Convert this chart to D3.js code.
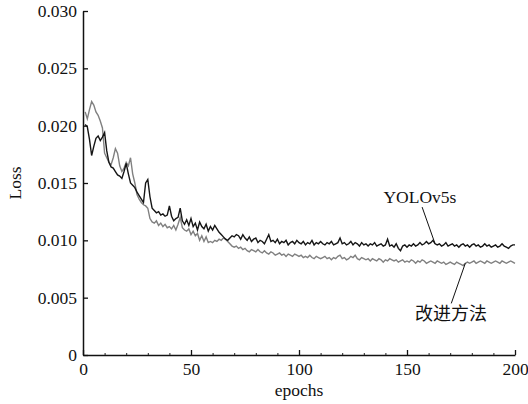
<!DOCTYPE html>
<html><head><meta charset="utf-8">
<script src="https://cdn.jsdelivr.net/npm/d3@7/dist/d3.min.js"></script>
<style>body{margin:0;background:#fff}svg{display:block}</style>
</head><body>
<svg id="c" width="528" height="404"></svg>
<script>
const epochs = d3.range(1, 201);
const yolov5s = [
.0201,.0199,.0188,.0174,.0182,.0189,.0191,.0187,.0190,.0194,
.0178,.0168,.0164,.0163,.0160,.0157,.0156,.0154,.0160,.0167,
.0158,.0150,.0148,.0146,.0142,.0139,.0136,.0133,.0150,.0153,
.0138,.0128,.0126,.0124,.0125,.0122,.0123,.0121,.0122,.0130,
.0121,.0117,.0119,.0120,.0128,.0117,.0114,.0118,.0113,.0119,
.0112,.0115,.0109,.0116,.0112,.0110,.0114,.0108,.0112,.0109,
.0113,.0110,.0107,.0105,.0103,.0101,.0100,.0102,.0104,.0103,
.0105,.0104,.0101,.0105,.0102,.0100,.0103,.0099,.0101,.0102,
.0098,.0100,.0099,.0097,.0101,.0105,.0099,.0100,.0098,.0101,
.0097,.0099,.0098,.0100,.0096,.0098,.0099,.0097,.0100,.0098,
.0097,.0099,.0096,.0098,.0097,.0100,.0096,.0098,.0097,.0099,
.0097,.0096,.0098,.0097,.0099,.0096,.0097,.0098,.0102,.0097,
.0098,.0096,.0097,.0099,.0096,.0098,.0097,.0095,.0098,.0096,
.0097,.0095,.0097,.0096,.0098,.0095,.0096,.0097,.0095,.0096,
.0101,.0095,.0096,.0094,.0097,.0093,.0091,.0095,.0096,.0094,
.0096,.0095,.0097,.0095,.0096,.0098,.0096,.0097,.0099,.0097,
.0098,.0100,.0097,.0096,.0097,.0095,.0096,.0098,.0095,.0096,
.0097,.0095,.0096,.0094,.0096,.0097,.0095,.0096,.0094,.0096,
.0097,.0095,.0096,.0094,.0095,.0097,.0095,.0096,.0094,.0095,
.0096,.0094,.0095,.0097,.0095,.0094,.0093,.0095,.0096,.0096];
const improved = [
.0212,.0206,.0214,.0221,.0218,.0212,.0209,.0204,.0198,.0176,
.0172,.0168,.0166,.0172,.0180,.0176,.0165,.0160,.0163,.0168,
.0165,.0172,.0158,.0150,.0140,.0136,.0133,.0131,.0130,.0128,
.0119,.0116,.0115,.0117,.0113,.0115,.0112,.0114,.0111,.0112,
.0110,.0113,.0109,.0114,.0120,.0111,.0109,.0108,.0110,.0105,
.0108,.0104,.0106,.0100,.0104,.0099,.0103,.0098,.0099,.0098,
.0100,.0099,.0101,.0100,.0102,.0101,.0099,.0097,.0095,.0094,
.0095,.0093,.0094,.0092,.0093,.0091,.0090,.0092,.0091,.0090,
.0092,.0090,.0089,.0091,.0089,.0088,.0090,.0089,.0087,.0088,
.0089,.0087,.0088,.0086,.0088,.0087,.0086,.0088,.0087,.0086,
.0087,.0085,.0086,.0085,.0087,.0085,.0084,.0086,.0085,.0084,
.0085,.0086,.0084,.0085,.0083,.0085,.0084,.0086,.0087,.0084,
.0085,.0083,.0084,.0086,.0085,.0087,.0084,.0083,.0085,.0084,
.0083,.0084,.0082,.0084,.0083,.0082,.0084,.0083,.0081,.0083,
.0082,.0084,.0083,.0082,.0083,.0081,.0082,.0083,.0081,.0082,
.0081,.0083,.0082,.0080,.0082,.0081,.0083,.0082,.0080,.0081,
.0082,.0081,.0080,.0082,.0081,.0080,.0081,.0079,.0080,.0081,
.0080,.0079,.0081,.0080,.0079,.0078,.0080,.0081,.0080,.0081,
.0082,.0080,.0081,.0082,.0081,.0080,.0082,.0081,.0080,.0081,
.0082,.0081,.0080,.0082,.0081,.0080,.0081,.0082,.0081,.0080];
const xTicks = [0, 50, 100, 150, 200];
const xMinorTicks = d3.range(0, 201, 10);
const yTicks = [0, 0.005, 0.010, 0.015, 0.020, 0.025, 0.030];
const seriesNames = ["YOLOv5s", "改进方法"];

const svg = d3.select("#c");
const x = d3.scaleLinear().domain([0, 200]).range([83, 515]);
const y = d3.scaleLinear().domain([0, 0.030]).range([355, 11]);
const serif = "'Liberation Serif','Times New Roman',serif";

svg.append("g").attr("transform", "translate(0,355)")
  .call(d3.axisBottom(x).tickValues(xMinorTicks).tickSizeInner(-2).tickSizeOuter(0).tickFormat(""))
  .call(g => g.select(".domain").remove())
  .selectAll("line").attr("stroke", "#222").attr("stroke-width", 1);

const gx = svg.append("g").attr("transform", "translate(0,355)")
  .call(d3.axisBottom(x).tickValues(xTicks).tickSizeInner(-5).tickSizeOuter(0).tickPadding(8).tickFormat(d3.format("d")));
const gy = svg.append("g").attr("transform", "translate(83,0)")
  .call(d3.axisLeft(y).tickValues(yTicks).tickSizeInner(-5).tickSizeOuter(0).tickPadding(6)
    .tickFormat(d => d === 0 ? "0" : d3.format(".3f")(d)));
[gx, gy].forEach(g => {
  g.select(".domain").attr("stroke", "#111").attr("stroke-width", 1.5);
  g.selectAll(".tick line").attr("stroke", "#111").attr("stroke-width", 1.3);
  g.selectAll("text").attr("font-family", serif).attr("font-size", 17.5).attr("fill", "#111");
});

svg.append("text").attr("x", x(100)).attr("y", 396).attr("text-anchor", "middle")
  .attr("font-family", serif).attr("font-size", 17.5).attr("fill", "#111").text("epochs");
svg.append("text").attr("transform", `translate(21,${y(0.015)}) rotate(-90)`).attr("text-anchor", "middle")
  .attr("font-family", serif).attr("font-size", 17.5).attr("fill", "#111").text("Loss");

const line = d3.line().x((d, i) => x(epochs[i])).y(d => y(d));
svg.append("path").datum(improved).attr("d", line).attr("fill", "none")
  .attr("stroke", "#808080").attr("stroke-width", 1.4);
svg.append("path").datum(yolov5s).attr("d", line).attr("fill", "none")
  .attr("stroke", "#151515").attr("stroke-width", 1.4);

svg.append("line").attr("x1", x(157)).attr("y1", y(0.0129))
  .attr("x2", x(163)).attr("y2", y(yolov5s[162])).attr("stroke", "#111").attr("stroke-width", 1);
svg.append("text").attr("x", x(156)).attr("y", y(0.01325)).attr("text-anchor", "middle")
  .attr("font-family", serif).attr("font-size", 17.5).attr("fill", "#111").text(seriesNames[0]);
svg.append("line").attr("x1", x(170.5)).attr("y1", y(0.0045))
  .attr("x2", x(177)).attr("y2", y(improved[176])).attr("stroke", "#111").attr("stroke-width", 1);
svg.append("text").attr("x", x(170.4)).attr("y", 320).attr("text-anchor", "middle")
  .attr("font-family", "'Noto Sans CJK SC',sans-serif").attr("font-size", 18).attr("fill", "#111").text(seriesNames[1]);
</script>
</body></html>
